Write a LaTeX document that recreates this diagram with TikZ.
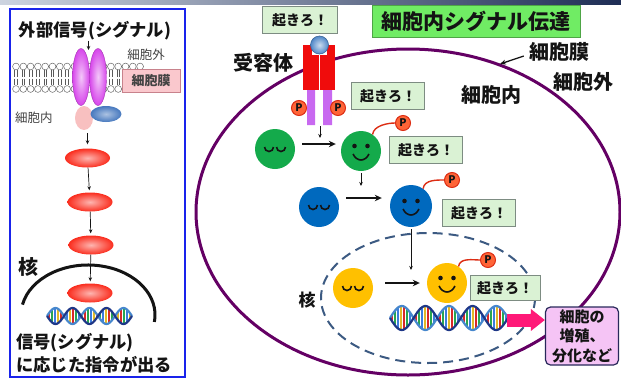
\documentclass[tikz,border=0pt]{standalone}
\usepackage{fontspec}
\setmainfont{Noto Sans CJK JP}
\usepackage{tikz}
\usetikzlibrary{arrows.meta,shapes.geometric}
\definecolor{ink}{RGB}{20,20,20}
\definecolor{barpale}{RGB}{205,212,224}
\definecolor{barnavy}{RGB}{30,45,85}
\definecolor{panelblue}{RGB}{25,35,235}
\definecolor{cellpurple}{RGB}{100,0,100}
\definecolor{nucblue}{RGB}{60,90,130}
\definecolor{wakefill}{RGB}{218,242,212}
\definecolor{wakestroke}{RGB}{125,140,130}
\definecolor{titlefill}{RGB}{112,236,100}
\definecolor{memfill}{RGB}{250,200,205}
\definecolor{memstroke}{RGB}{200,130,140}
\definecolor{recmag}{RGB}{215,70,235}
\definecolor{recred}{RGB}{240,12,12}
\definecolor{recleg}{RGB}{200,105,240}
\definecolor{ligand}{RGB}{80,135,200}
\definecolor{adaptpink}{RGB}{248,192,192}
\definecolor{gefblue}{RGB}{70,120,190}
\definecolor{kinred}{RGB}{250,45,30}
\definecolor{pfill}{RGB}{255,100,55}
\definecolor{pstroke}{RGB}{220,45,20}
\definecolor{faceg}{RGB}{20,170,75}
\definecolor{faceb}{RGB}{0,105,190}
\definecolor{facey}{RGB}{255,192,0}
\definecolor{fatefill}{RGB}{245,196,245}
\definecolor{fatestroke}{RGB}{40,40,90}
\definecolor{pinkarrow}{RGB}{255,25,120}
\definecolor{strandA}{RGB}{30,55,135}
\definecolor{strandB}{RGB}{70,135,205}
\definecolor{dna0}{RGB}{215,40,40}
\definecolor{dna1}{RGB}{40,165,80}
\definecolor{dna2}{RGB}{60,125,220}
\definecolor{dna3}{RGB}{225,185,40}
% double helix: x0, width, y centre, amplitude, half period
\newcommand\helix[5]{%
  \pgfmathtruncatemacro\nrung{(#2-4)/3}
  \foreach \k in {0,...,\nrung}{
    \pgfmathsetmacro\xx{#1+2+3*\k}
    \pgfmathsetmacro\yy{#4*sin((\xx-#1)/#5*180)}
    \pgfmathtruncatemacro\c{mod(\k,4)}
    \draw[draw=dna\c, line width=1.3pt] ({\xx},{#3+(\yy)}) -- ({\xx},{#3-(\yy)});
  }
  \draw[draw=strandB, line width=2.2pt] plot[domain=#1:#1+#2, samples=90, smooth] (\x,{#3-#4*sin((\x-#1)/#5*180)});
  \draw[draw=strandA, line width=2.2pt] plot[domain=#1:#1+#2, samples=90, smooth] (\x,{#3+#4*sin((\x-#1)/#5*180)});
}
\tikzset{
  lbl/.style={font=\fontsize{20}{23}\selectfont\bfseries, inner sep=0pt, text=ink},
  bigtxt/.style={font=\fontsize{17.3}{20}\selectfont\bfseries, inner sep=0pt, text=ink},
  smalllbl/.style={font=\fontsize{12.5}{14}\selectfont, inner sep=0pt, text=ink!80},
  membox/.style={draw=memstroke, fill=memfill, line width=0.8pt,
    minimum width=58pt, minimum height=23pt, inner sep=0pt,
    font=\fontsize{13}{15}\selectfont\bfseries, text=ink!80},
  title/.style={draw=titlefill!70!black, fill=titlefill, line width=0.6pt,
    minimum width=208pt, minimum height=32pt, inner sep=0pt,
    font=\fontsize{21}{24}\selectfont\bfseries, text=ink},
  wake/.style={draw=wakestroke, fill=wakefill, line width=0.9pt,
    minimum width=73pt, minimum height=27pt, inner sep=0pt,
    font=\fontsize{14}{16}\selectfont\bfseries, text=ink},
  fate/.style={draw=fatestroke, fill=fatefill, rounded corners=5pt, line width=1.2pt,
    minimum width=73pt, minimum height=58pt, inner sep=1pt, align=center,
    font=\fontsize{15}{19.5}\selectfont\bfseries, text=ink},
  head/.style={circle, draw=ink!65, fill=white, line width=0.5pt, minimum size=6.8pt, inner sep=0pt},
  tail/.style={draw=ink!70, line width=0.7pt},
  recep/.style={ellipse, minimum width=17pt, minimum height=57pt, inner sep=0pt,
    draw=recmag!75!black, line width=0.4pt, shading=radial,
    inner color=recmag!30!white, outer color=recmag},
  kinase/.style={ellipse, minimum width=45pt, minimum height=19pt, inner sep=0pt,
    shading=radial, inner color=kinred!35!white, outer color=kinred},
  ligand/.style={circle, minimum size=18pt, inner sep=0pt, draw=ligand!75!black,
    line width=0.6pt, shading=radial, inner color=ligand!30!white, outer color=ligand},
  ptag/.style={circle, fill=pfill, draw=pstroke, line width=1pt, minimum size=15pt,
    inner sep=0pt, font=\fontsize{10.5}{11}\selectfont\bfseries, text=ink},
  face/.style={circle, fill=#1, minimum size=40pt, inner sep=0pt},
  sleepy/.style={face=#1, path picture={
    \begin{scope}[shift={(path picture bounding box.center)}]
      \draw[line width=1.6pt, ink] (-10.5,-2) arc[start angle=180, end angle=0, radius=4.5]
        (1.5,-2) arc[start angle=180, end angle=0, radius=4.5];
    \end{scope}}},
  happy/.style={face=#1, path picture={
    \begin{scope}[shift={(path picture bounding box.center)}]
      \fill[ink] (-6.5,-5) circle (2.3) (6.5,-5) circle (2.3);
      \draw[line width=1.6pt, ink] (-8,3) .. controls (-4,11) and (4,11) .. (8,3);
    \end{scope}}},
  ptail/.style={draw=pstroke, line width=1.4pt},
  arr/.style={-{Stealth[length=7pt,width=6.5pt]}, line width=1.6pt, draw=ink},
  tinyarr/.style={-{Stealth[length=4pt,width=3.5pt]}, line width=0.7pt, draw=ink},
  memarr/.style={-{Stealth[length=6pt,width=5pt]}, line width=1.3pt, draw=ink},
  fatearr/.style={-{Triangle[length=14pt,width=21pt]}, line width=13pt, draw=pinkarrow},
}

\begin{document}
\begin{tikzpicture}[x=1pt,y=-1pt]
  \useasboundingbox (0,0) rectangle (621,381);
  \shade[left color=barpale, right color=barnavy] (0,0) rectangle (621,4.5);

  % left panel
  \draw[draw=panelblue, line width=2.6pt] (10,9) rectangle (185,377);
  \node[bigtxt] (sig) at (95,31) {外部信号(シグナル)};

  % bilayer
  \foreach \i in {0,...,17}{
    \pgfmathsetmacro\hx{16+7.3*\i}
    \draw[tail] (\hx-1.3,70) -- (\hx-1.3,76.5) (\hx+1.3,70) -- (\hx+1.3,76.5)
      (\hx-1.3,78.5) -- (\hx-1.3,85) (\hx+1.3,78.5) -- (\hx+1.3,85);
    \node[head] (ht\i) at (\hx,66.5) {};
    \node[head] (hb\i) at (\hx,89) {};
  }
  \node[recep] (rcA) at (81,77) {};
  \node[recep] (rcB) at (98,77) {};
  \coordinate (sigtip) at (88.5,50);
  \draw[tinyarr] (sigtip |- sig.south) -- (sigtip);

  \node[smalllbl] (outL) at (146,55) {細胞外};
  \node[membox] (memL) at (151,81) {細胞膜};
  \node[smalllbl] (inL) at (34,118) {細胞内};
  \node[ellipse, fill=adaptpink, minimum width=18pt, minimum height=24pt, inner sep=0pt] (adp) at (84,118) {};
  \node[ellipse, shading=radial, inner color=gefblue!45!white, outer color=gefblue,
    minimum width=31pt, minimum height=16pt, inner sep=0pt] (gef) at (106,114) {};

  % cascade
  \node[kinase] (kin1) at (87.5,158) {};
  \node[kinase] (kin2) at (90,202) {};
  \node[kinase] (kin3) at (91,245) {};
  \node[kinase] (kin4) at (90,293) {};
  \draw[tinyarr, shorten <=3pt, shorten >=4pt] (kin1.north |- adp.south) -- (kin1.north);
  \draw[tinyarr, shorten >=2pt] (kin1) -- (kin2);
  \draw[tinyarr, shorten >=2pt] (kin2) -- (kin3);
  \draw[tinyarr, shorten >=2pt] (kin3) -- (kin4);

  % nucleus
  \draw[line width=3pt, ink] (22.5,304.6) arc[start angle=192, end angle=368, x radius=67, y radius=50];
  \node[lbl] (nucL) at (28,267) {核};
  \helix{47}{85}{316}{8}{17}
  \node[bigtxt, anchor=west] (resA) at (16,343) {信号(シグナル)};
  \node[bigtxt, anchor=west] (resB) at (16,365) {に応じた指令が出る};

  % right panel: cell and nucleus
  \draw[draw=cellpurple, line width=3pt] (408,212) ellipse [x radius=212, y radius=163];
  \draw[draw=nucblue, line width=2pt, dash pattern=on 10pt off 6pt] (428,298) ellipse [x radius=107, y radius=65];

  \node[title] (ttl) at (476,21) {細胞内シグナル伝達};
  \node[wake, minimum width=75pt] (w0) at (300,20) {起きろ！};

  % receptor
  \fill[recred] (303,45) rectangle (335,90);
  \fill[white] (312,45) rectangle (327,55);
  \draw[white, line width=0.6pt] (319.5,55) -- (319.5,90);
  \fill[recleg] (307,90) rectangle (315,125) (323,90) rectangle (332,125);
  \node[ligand] (lig) at (319.5,45) {};
  \node[ptag] (pr1) at (299,108) {P};
  \node[ptag] (pr2) at (338,108) {P};
  \node[lbl] (rcpt) at (263,63) {受容体};
  \coordinate (rcbot) at (320,126);
  \coordinate (rctip) at (320,138);
  \draw[tinyarr] (rcbot) -- (rctip);

  \node[lbl] (memR) at (559,52) {細胞膜};
  \coordinate (memtip) at (500,64);
  \draw[memarr] ([xshift=-5pt,yshift=-4pt]memR.west) -- (memtip);
  \node[lbl] (outR) at (583,82) {細胞外};
  \node[lbl] (inR) at (491,95) {細胞内};
  \node[wake] (w1) at (388,96) {起きろ！};

  % green step
  \node[sleepy=faceg] (g0) at (275,149) {};
  \node[happy=faceg] (g1) at (361,151) {};
  \node[ptag] (pg) at (403,123) {P};
  \draw[ptail] (g1.55) .. controls +(1,-9) and +(-7,0) .. (pg.west);
  \node[wake] (w2) at (426,150) {起きろ！};
  \draw[arr, shorten <=7pt, shorten >=5pt] ([yshift=5pt]g0.east) -- ([yshift=5pt]g0.east -| g1.west);

  % blue step
  \node[sleepy=faceb] (b0) at (319,207) {};
  \node[happy=faceb, minimum size=42pt] (b1) at (411,206) {};
  \node[ptag] (pb) at (452,180) {P};
  \draw[ptail] (b1.55) .. controls +(1,-9) and +(-7,0) .. (pb.west);
  \node[wake] (w3) at (479,213) {起きろ！};
  \draw[arr, shorten <=7pt, shorten >=8pt] ([yshift=9pt]b0.east) -- ([yshift=9pt]b0.east -| b1.west);
  \coordinate (cat1) at (361,186);
  \draw[tinyarr, shorten <=2pt] (g1.south) -- (cat1);

  % yellow step
  \node[lbl, font=\fontsize{17}{20}\selectfont\bfseries] (nucR) at (307,300) {核};
  \node[sleepy=facey] (y0) at (353,288) {};
  \node[happy=facey] (y1) at (447,283) {};
  \node[ptag] (py) at (488,260) {P};
  \draw[ptail] (y1.55) .. controls +(1,-9) and +(-7,0) .. (py.west);
  \node[wake, minimum width=70pt, minimum height=25pt] (w4) at (505,288) {起きろ！};
  \draw[arr, shorten <=12pt, shorten >=7pt] ([yshift=5pt]y0.east) -- ([yshift=5pt]y0.east -| y1.west);
  \coordinate (cat2) at (411,270);
  \draw[tinyarr, shorten <=2pt] (b1.south) -- (cat2);

  % gene expression
  \helix{390}{118}{318}{12}{23.6}
  \node[fate] (fate) at (582,336) {細胞の\\増殖、\\分化など};
  \coordinate (dnaR) at (507,320);
  \draw[fatearr] (dnaR) -- (dnaR -| fate.west);
\end{tikzpicture}
\end{document}
